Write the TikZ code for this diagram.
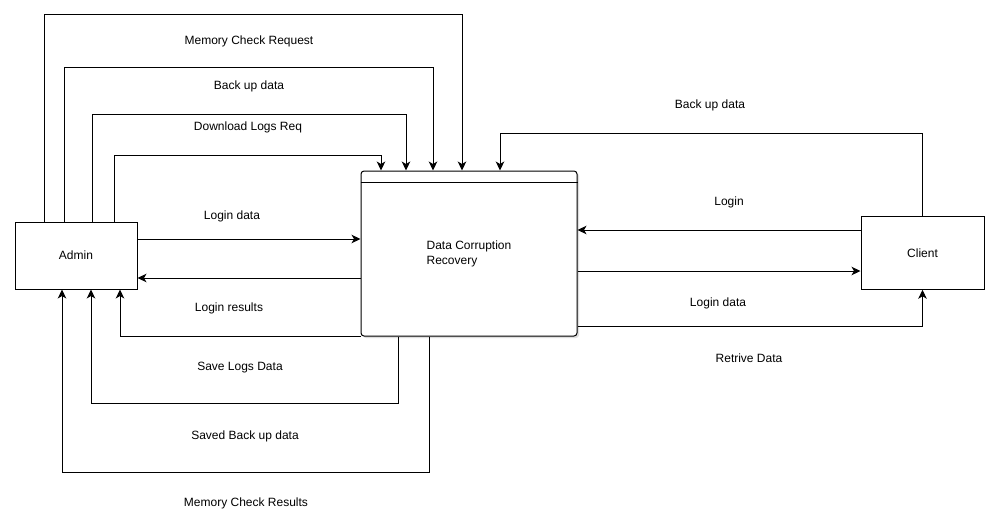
\documentclass[tikz,border=0pt]{standalone}
\usepackage{fontspec}
\setmainfont{Liberation Sans}
\usetikzlibrary{arrows.meta,calc}
\begin{document}
\begin{tikzpicture}[x=1pt,y=-1pt,
  every node/.style={font=\fontsize{12}{15}\selectfont},
  entity/.style={draw,line width=1pt,minimum width=#1,inner sep=0pt},
  flow/.style={line width=1pt,-{Stealth[length=9pt,width=8.5pt,inset=2.5pt]}},
  lbl/.style={inner sep=0pt}]
\useasboundingbox (0,0) rectangle (998,527);
\fill[white] (0,0) rectangle (998,527);

% process box with drop shadow and header bar
\fill[black!25,opacity=0.5,rounded corners=3pt] (363,173) rectangle (579,338);
\node[draw,fill=white,line width=1pt,rounded corners=3pt,minimum width=216pt,
      minimum height=165pt,inner sep=0pt,align=left] (proc) at (469,253.5)
      {Data Corruption\\Recovery};
\draw[line width=1pt] (proc.north west |- 0,182) -- (proc.north east |- 0,182);

% external entities
\node[entity=122pt,minimum height=67pt] (admin) at (76,255.5) {Admin};
\node[entity=123pt,minimum height=73pt] (client) at (922.5,252.75) {Client};

% admin -> process requests over the top
\draw[flow] (admin.north -| 44,0) |- (462,15) -- (proc.north -| 462,0);
\draw[flow] (admin.north -| 64,0) |- (433,68) -- (proc.north -| 433,0);
\draw[flow] (admin.north -| 92,0) |- (406,114) -- (proc.north -| 406,0);
\draw[flow] (admin.north -| 114,0) |- (381,155) -- (proc.north -| 381,0);
\node[lbl] (l1) at (249,41) {Memory Check Request};
\node[lbl] (l2) at (249,86) {Back up data};
\node[lbl] (l3) at (248,127) {Download Logs Req};

% admin <-> process login
\draw[flow] (admin.east |- 0,239) -- (proc.west |- 0,239);
\draw[flow] (proc.west |- 0,278) -- (admin.east |- 0,278);
\node[lbl] (l4) at (232,216) {Login data};
\node[lbl] (l5) at (229,308) {Login results};

% process -> admin results underneath
\draw[flow] (proc.south west) -| (admin.south -| 120,0);
\draw[flow] (proc.south -| 398,0) |- (91,403) -- (admin.south -| 91,0);
\draw[flow] (proc.south -| 429,0) |- (62,472) -- (admin.south -| 62,0);
\node[lbl] (l6) at (240,368) {Save Logs Data};
\node[lbl] (l7) at (245,436) {Saved Back up data};
\node[lbl] (l8) at (246,503) {Memory Check Results};

% client <-> process
\draw[flow] (client.north -| 922.5,0) |- (500,133) -- (proc.north -| 500,0);
\draw[flow] (client.west |- 0,230) -- (proc.east |- 0,230);
\draw[flow] (proc.east |- 0,271) -- (client.west |- 0,271);
\draw[flow] (proc.east |- 0,326) -| (client.south);
\node[lbl] (l9) at (710,105) {Back up data};
\node[lbl] (l10) at (729,202) {Login};
\node[lbl] (l11) at (718,303) {Login data};
\node[lbl] (l12) at (749,358) {Retrive Data};
\end{tikzpicture}
\end{document}
